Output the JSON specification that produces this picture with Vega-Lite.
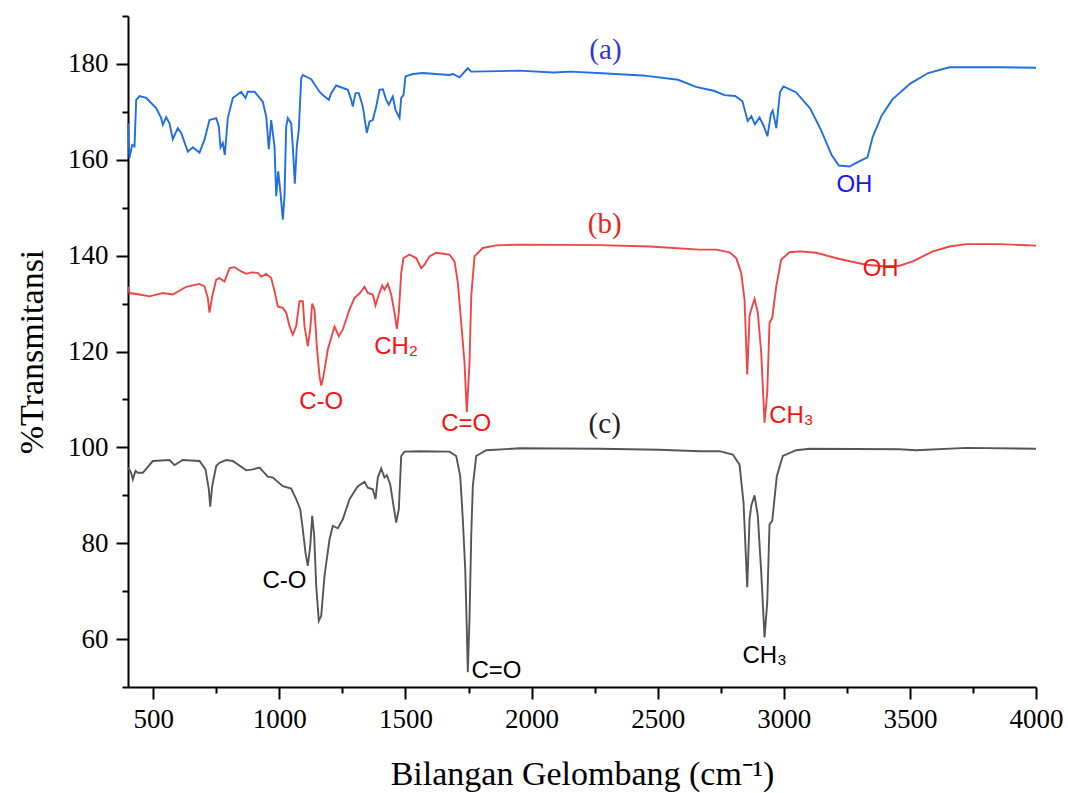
{
  "$schema": "https://vega.github.io/schema/vega-lite/v6.json",
  "width": 908,
  "height": 671,
  "autosize": {"type": "none"},
  "padding": {"left": 128, "top": 16, "right": 32, "bottom": 106},
  "background": "white",
  "config": {
    "view": {"stroke": null},
    "axis": {
      "grid": false,
      "domainColor": "#000000",
      "domainWidth": 2,
      "tickColor": "#000000",
      "tickWidth": 2,
      "labelFont": "Liberation Serif",
      "labelFontSize": 27,
      "labelColor": "#000000",
      "titleFont": "Liberation Serif",
      "titleFontSize": 34,
      "titleFontWeight": "normal",
      "titleColor": "#000000",
      "labelOverlap": false,
      "labelFlush": false
    }
  },
  "datasets": {
    "spec": [
      {"s":"a","wn":400,"t":167.6},{"s":"a","wn":406,"t":160.4},{"s":"a","wn":416.7,"t":163.1},{"s":"a","wn":425.8,"t":162.8},{"s":"a","wn":432.5,"t":172.5},{"s":"a","wn":445.6,"t":173.3},{"s":"a","wn":472.2,"t":172.9},{"s":"a","wn":511.8,"t":170.8},{"s":"a","wn":531.6,"t":168.7},{"s":"a","wn":538,"t":167.3},{"s":"a","wn":551.5,"t":168.9},{"s":"a","wn":564.5,"t":167.6},{"s":"a","wn":577.6,"t":164.3},{"s":"a","wn":597.5,"t":166.6},{"s":"a","wn":610.9,"t":165.6},{"s":"a","wn":637.1,"t":161.7},{"s":"a","wn":656.9,"t":162.6},{"s":"a","wn":683.5,"t":161.5},{"s":"a","wn":703.3,"t":164.2},{"s":"a","wn":723.1,"t":168.3},{"s":"a","wn":749.7,"t":168.7},{"s":"a","wn":760,"t":167},{"s":"a","wn":766.8,"t":162.6},{"s":"a","wn":775.9,"t":163.5},{"s":"a","wn":783.8,"t":161.0},{"s":"a","wn":795.7,"t":168.7},{"s":"a","wn":815.5,"t":172.9},{"s":"a","wn":848.8,"t":174.2},{"s":"a","wn":865.9,"t":172.9},{"s":"a","wn":875,"t":174.2},{"s":"a","wn":901.6,"t":174.2},{"s":"a","wn":934.5,"t":172.1},{"s":"a","wn":948,"t":169.0},{"s":"a","wn":958.3,"t":162.2},{"s":"a","wn":967.8,"t":168.3},{"s":"a","wn":974.1,"t":165.6},{"s":"a","wn":980.9,"t":162.8},{"s":"a","wn":987.6,"t":152.4},{"s":"a","wn":995.5,"t":157.6},{"s":"a","wn":1004.6,"t":153.1},{"s":"a","wn":1013.8,"t":147.5},{"s":"a","wn":1020.5,"t":152.4},{"s":"a","wn":1027.2,"t":166.9},{"s":"a","wn":1033.6,"t":168.7},{"s":"a","wn":1047.1,"t":167.6},{"s":"a","wn":1053.4,"t":162.8},{"s":"a","wn":1061.4,"t":155.0},{"s":"a","wn":1069.3,"t":162.8},{"s":"a","wn":1077.2,"t":166.3},{"s":"a","wn":1086.7,"t":177.0},{"s":"a","wn":1093.1,"t":177.7},{"s":"a","wn":1126.4,"t":176.8},{"s":"a","wn":1159.3,"t":174.2},{"s":"a","wn":1172.4,"t":173.5},{"s":"a","wn":1196.2,"t":172.5},{"s":"a","wn":1205.7,"t":173.9},{"s":"a","wn":1225.5,"t":175.5},{"s":"a","wn":1271.5,"t":174.6},{"s":"a","wn":1285,"t":172.5},{"s":"a","wn":1291.3,"t":171.1},{"s":"a","wn":1302,"t":173.9},{"s":"a","wn":1315.1,"t":173.9},{"s":"a","wn":1331,"t":171.1},{"s":"a","wn":1346.8,"t":165.6},{"s":"a","wn":1357.5,"t":168.0},{"s":"a","wn":1370.6,"t":168.3},{"s":"a","wn":1384.1,"t":171.1},{"s":"a","wn":1397.2,"t":174.6},{"s":"a","wn":1410.3,"t":174.7},{"s":"a","wn":1423.7,"t":172.5},{"s":"a","wn":1434.1,"t":171.5},{"s":"a","wn":1449.9,"t":173.2},{"s":"a","wn":1460.6,"t":170.4},{"s":"a","wn":1476.5,"t":168.7},{"s":"a","wn":1483.2,"t":172.9},{"s":"a","wn":1492.3,"t":173.5},{"s":"a","wn":1500.3,"t":177.4},{"s":"a","wn":1529.2,"t":177.9},{"s":"a","wn":1568.9,"t":178.1},{"s":"a","wn":1674.7,"t":177.7},{"s":"a","wn":1687.8,"t":177.9},{"s":"a","wn":1714.4,"t":177.2},{"s":"a","wn":1747.3,"t":179.1},{"s":"a","wn":1760.8,"t":178.4},{"s":"a","wn":1873,"t":178.5},{"s":"a","wn":1952,"t":178.6},{"s":"a","wn":2085.5,"t":178.2},{"s":"a","wn":2156,"t":178.4},{"s":"a","wn":2297.6,"t":178.0},{"s":"a","wn":2439.6,"t":177.6},{"s":"a","wn":2581,"t":176.7},{"s":"a","wn":2651.7,"t":175.2},{"s":"a","wn":2722.6,"t":174.4},{"s":"a","wn":2765,"t":173.5},{"s":"a","wn":2807.5,"t":173.3},{"s":"a","wn":2836,"t":172.2},{"s":"a","wn":2857,"t":168.1},{"s":"a","wn":2871.4,"t":169.1},{"s":"a","wn":2885.6,"t":167.4},{"s":"a","wn":2903.9,"t":168.85},{"s":"a","wn":2920.9,"t":167.0},{"s":"a","wn":2935.2,"t":164.9},{"s":"a","wn":2949.1,"t":169.6},{"s":"a","wn":2956.2,"t":170.3},{"s":"a","wn":2970.5,"t":166.6},{"s":"a","wn":2984.8,"t":174.1},{"s":"a","wn":2998.7,"t":175.3},{"s":"a","wn":3048.2,"t":174.1},{"s":"a","wn":3104.9,"t":170.7},{"s":"a","wn":3147.3,"t":166.25},{"s":"a","wn":3189.7,"t":161.0},{"s":"a","wn":3218.3,"t":158.8},{"s":"a","wn":3260.7,"t":158.6},{"s":"a","wn":3288.9,"t":159.4},{"s":"a","wn":3331.7,"t":160.5},{"s":"a","wn":3352.7,"t":164.8},{"s":"a","wn":3388,"t":169.2},{"s":"a","wn":3430.8,"t":172.6},{"s":"a","wn":3501.4,"t":175.9},{"s":"a","wn":3572.4,"t":178.1},{"s":"a","wn":3657.2,"t":179.3},{"s":"a","wn":3855.5,"t":179.3},{"s":"a","wn":4000,"t":179.2},

      {"s":"b","wn":400,"t":133.5},{"s":"b","wn":406,"t":132.2},{"s":"b","wn":445.6,"t":131.9},{"s":"b","wn":485.2,"t":131.5},{"s":"b","wn":538,"t":132.2},{"s":"b","wn":577.6,"t":131.9},{"s":"b","wn":630.8,"t":133.5},{"s":"b","wn":683.5,"t":134.1},{"s":"b","wn":703.3,"t":133.6},{"s":"b","wn":716.4,"t":131.2},{"s":"b","wn":723.1,"t":128.1},{"s":"b","wn":733.8,"t":131.5},{"s":"b","wn":749.7,"t":135.0},{"s":"b","wn":762.8,"t":135.3},{"s":"b","wn":782.6,"t":134.6},{"s":"b","wn":802.4,"t":137.4},{"s":"b","wn":822.3,"t":137.6},{"s":"b","wn":848.8,"t":136.7},{"s":"b","wn":868.7,"t":136.2},{"s":"b","wn":888.5,"t":136.5},{"s":"b","wn":914.6,"t":136.4},{"s":"b","wn":928.1,"t":135.6},{"s":"b","wn":947.9,"t":136.2},{"s":"b","wn":967.8,"t":135.35},{"s":"b","wn":980.9,"t":132.6},{"s":"b","wn":994,"t":129.4},{"s":"b","wn":1013.8,"t":129.1},{"s":"b","wn":1027.2,"t":128.1},{"s":"b","wn":1040.3,"t":125.3},{"s":"b","wn":1053.4,"t":123.5},{"s":"b","wn":1066.9,"t":125.3},{"s":"b","wn":1080,"t":130.5},{"s":"b","wn":1093.1,"t":130.5},{"s":"b","wn":1099.8,"t":125.3},{"s":"b","wn":1112.9,"t":121.1},{"s":"b","wn":1122.4,"t":124.6},{"s":"b","wn":1130.3,"t":130.0},{"s":"b","wn":1139.5,"t":128.75},{"s":"b","wn":1148.6,"t":121.1},{"s":"b","wn":1159.3,"t":114.85},{"s":"b","wn":1166,"t":112.9},{"s":"b","wn":1175.1,"t":114.85},{"s":"b","wn":1192.2,"t":120.4},{"s":"b","wn":1218.8,"t":125.2},{"s":"b","wn":1235.8,"t":123.2},{"s":"b","wn":1251.7,"t":124.6},{"s":"b","wn":1278.2,"t":128.75},{"s":"b","wn":1298,"t":131.2},{"s":"b","wn":1317.8,"t":132.1},{"s":"b","wn":1337.7,"t":133.5},{"s":"b","wn":1350.8,"t":132.2},{"s":"b","wn":1370.6,"t":131.9},{"s":"b","wn":1381.3,"t":129.6},{"s":"b","wn":1394.4,"t":131.9},{"s":"b","wn":1407.9,"t":133.75},{"s":"b","wn":1417,"t":132.9},{"s":"b","wn":1430.1,"t":134.1},{"s":"b","wn":1443.6,"t":131.9},{"s":"b","wn":1456.7,"t":128.1},{"s":"b","wn":1465.8,"t":124.7},{"s":"b","wn":1473.7,"t":128.1},{"s":"b","wn":1483.2,"t":136.4},{"s":"b","wn":1492.3,"t":139.5},{"s":"b","wn":1516.1,"t":140.2},{"s":"b","wn":1542.7,"t":139.5},{"s":"b","wn":1562.5,"t":137.4},{"s":"b","wn":1575.6,"t":138.1},{"s":"b","wn":1595.4,"t":139.85},{"s":"b","wn":1622,"t":140.6},{"s":"b","wn":1674.7,"t":140.2},{"s":"b","wn":1694.5,"t":138.8},{"s":"b","wn":1707.7,"t":134.3},{"s":"b","wn":1721.1,"t":126.0},{"s":"b","wn":1734.2,"t":117.65},{"s":"b","wn":1743.3,"t":107.35},{"s":"b","wn":1754,"t":117.65},{"s":"b","wn":1760.8,"t":131.5},{"s":"b","wn":1773.8,"t":139.85},{"s":"b","wn":1806.8,"t":141.6},{"s":"b","wn":1859.9,"t":142.15},{"s":"b","wn":1952.3,"t":142.3},{"s":"b","wn":2269.5,"t":142.2},{"s":"b","wn":2467.7,"t":141.9},{"s":"b","wn":2666,"t":141.25},{"s":"b","wn":2732.2,"t":141.25},{"s":"b","wn":2784.9,"t":140.7},{"s":"b","wn":2811.5,"t":139.5},{"s":"b","wn":2831.3,"t":136.4},{"s":"b","wn":2844.4,"t":130.8},{"s":"b","wn":2855.1,"t":115.2},{"s":"b","wn":2864.2,"t":127.4},{"s":"b","wn":2871,"t":128.75},{"s":"b","wn":2884.1,"t":131.0},{"s":"b","wn":2897.1,"t":128.1},{"s":"b","wn":2910.6,"t":119.7},{"s":"b","wn":2923.7,"t":105.15},{"s":"b","wn":2934.4,"t":111.4},{"s":"b","wn":2943.5,"t":126.0},{"s":"b","wn":2954.2,"t":127.0},{"s":"b","wn":2970.1,"t":133.6},{"s":"b","wn":2989.9,"t":139.2},{"s":"b","wn":3022.8,"t":140.7},{"s":"b","wn":3062.5,"t":140.9},{"s":"b","wn":3128.7,"t":140.6},{"s":"b","wn":3221.1,"t":139.3},{"s":"b","wn":3326.9,"t":138.1},{"s":"b","wn":3392.7,"t":137.8},{"s":"b","wn":3458.9,"t":137.9},{"s":"b","wn":3511.7,"t":138.8},{"s":"b","wn":3590.9,"t":140.9},{"s":"b","wn":3657.2,"t":141.9},{"s":"b","wn":3723.4,"t":142.4},{"s":"b","wn":3855.5,"t":142.4},{"s":"b","wn":4000,"t":142.1},

      {"s":"c","wn":400,"t":95.8},{"s":"c","wn":412.7,"t":94.7},{"s":"c","wn":419,"t":93.3},{"s":"c","wn":429.7,"t":95.1},{"s":"c","wn":438.9,"t":94.7},{"s":"c","wn":458.7,"t":94.7},{"s":"c","wn":498.3,"t":97.15},{"s":"c","wn":564.5,"t":97.35},{"s":"c","wn":584.4,"t":96.3},{"s":"c","wn":617.3,"t":97.35},{"s":"c","wn":683.5,"t":97.15},{"s":"c","wn":707.3,"t":95.4},{"s":"c","wn":720.4,"t":91.25},{"s":"c","wn":725.9,"t":87.65},{"s":"c","wn":733.8,"t":91.9},{"s":"c","wn":749.7,"t":96.1},{"s":"c","wn":762.8,"t":96.8},{"s":"c","wn":789.4,"t":97.35},{"s":"c","wn":815.5,"t":97.15},{"s":"c","wn":868.7,"t":95.2},{"s":"c","wn":894.8,"t":95.4},{"s":"c","wn":921.4,"t":95.8},{"s":"c","wn":954.3,"t":93.9},{"s":"c","wn":974.1,"t":93.7},{"s":"c","wn":1013.8,"t":91.9},{"s":"c","wn":1047.1,"t":91.4},{"s":"c","wn":1066.9,"t":89.2},{"s":"c","wn":1082.8,"t":87.1},{"s":"c","wn":1093.1,"t":82.9},{"s":"c","wn":1103.8,"t":78.0},{"s":"c","wn":1112.9,"t":75.3},{"s":"c","wn":1122.4,"t":79.4},{"s":"c","wn":1130.3,"t":85.7},{"s":"c","wn":1138.3,"t":81.5},{"s":"c","wn":1146.2,"t":71.1},{"s":"c","wn":1156.5,"t":63.8},{"s":"c","wn":1166,"t":64.85},{"s":"c","wn":1179.1,"t":73.2},{"s":"c","wn":1198.9,"t":80.8},{"s":"c","wn":1212,"t":83.6},{"s":"c","wn":1231.8,"t":83.1},{"s":"c","wn":1251.7,"t":85.0},{"s":"c","wn":1278.2,"t":89.2},{"s":"c","wn":1311.2,"t":91.9},{"s":"c","wn":1337.7,"t":92.8},{"s":"c","wn":1350.8,"t":91.6},{"s":"c","wn":1370.6,"t":91.25},{"s":"c","wn":1381.3,"t":89.2},{"s":"c","wn":1390.4,"t":93.7},{"s":"c","wn":1403.9,"t":95.6},{"s":"c","wn":1417,"t":93.7},{"s":"c","wn":1426.1,"t":94.2},{"s":"c","wn":1439.6,"t":92.3},{"s":"c","wn":1452.7,"t":87.8},{"s":"c","wn":1463.4,"t":84.3},{"s":"c","wn":1473.7,"t":87.1},{"s":"c","wn":1483.2,"t":98.2},{"s":"c","wn":1496.3,"t":99.1},{"s":"c","wn":1555.8,"t":99.2},{"s":"c","wn":1674.7,"t":99.1},{"s":"c","wn":1701.3,"t":98.2},{"s":"c","wn":1717.2,"t":94.0},{"s":"c","wn":1727.5,"t":85.0},{"s":"c","wn":1737,"t":74.6},{"s":"c","wn":1743.3,"t":62.1},{"s":"c","wn":1747.3,"t":53.1},{"s":"c","wn":1754,"t":64.2},{"s":"c","wn":1760.8,"t":81.5},{"s":"c","wn":1767.1,"t":91.9},{"s":"c","wn":1780.6,"t":98.2},{"s":"c","wn":1820.2,"t":99.4},{"s":"c","wn":1952.3,"t":99.8},{"s":"c","wn":2269.5,"t":99.7},{"s":"c","wn":2507.4,"t":99.5},{"s":"c","wn":2666,"t":99.2},{"s":"c","wn":2745.2,"t":99.2},{"s":"c","wn":2798,"t":98.5},{"s":"c","wn":2824.5,"t":96.4},{"s":"c","wn":2840.4,"t":88.5},{"s":"c","wn":2855.1,"t":70.8},{"s":"c","wn":2864.2,"t":85.0},{"s":"c","wn":2871,"t":87.8},{"s":"c","wn":2884.1,"t":90.0},{"s":"c","wn":2897.1,"t":85.7},{"s":"c","wn":2910.6,"t":73.9},{"s":"c","wn":2923.7,"t":60.35},{"s":"c","wn":2934.4,"t":67.65},{"s":"c","wn":2943.5,"t":83.95},{"s":"c","wn":2954.2,"t":84.65},{"s":"c","wn":2972.4,"t":94.0},{"s":"c","wn":2996.2,"t":98.2},{"s":"c","wn":3049.3,"t":99.4},{"s":"c","wn":3102.1,"t":99.7},{"s":"c","wn":3458.9,"t":99.6},{"s":"c","wn":3525.2,"t":99.4},{"s":"c","wn":3723.4,"t":99.9},{"s":"c","wn":4000,"t":99.7}
    ],
    "letters": [
      {"s":"a","label":"(a)","wn":2293,"t":182.9},
      {"s":"b","label":"(b)","wn":2290,"t":146.7},
      {"s":"c","label":"(c)","wn":2290,"t":104.8}
    ],
    "tags": [
      {"s":"a","label":"OH","wn":3280,"t":154.7},
      {"s":"b","label":"C-O","wn":1166,"t":109.4},
      {"s":"b","label":"CH₂","wn":1463,"t":121.0},
      {"s":"b","label":"C=O","wn":1741,"t":104.8},
      {"s":"b","label":"CH₃","wn":3030,"t":106.5},
      {"s":"b","label":"OH","wn":3384,"t":137.3},
      {"s":"c","label":"C-O","wn":1020,"t":72.2},
      {"s":"c","label":"C=O","wn":1861,"t":53.3},
      {"s":"c","label":"CH₃","wn":2924,"t":56.5}
    ]
  },
  "layer": [
    {
      "data": {"name": "spec"},
      "mark": {"type": "line", "strokeWidth": 1.9},
      "encoding": {
        "x": {
          "field": "wn", "type": "quantitative",
          "scale": {"domain": [400, 4000], "nice": false, "zero": false},
          "axis": {
            "title": "Bilangan Gelombang (cm⁻¹)",
            "values": [500,750,1000,1250,1500,1750,2000,2250,2500,2750,3000,3250,3500,3750,4000],
            "format": "d",
            "labelExpr": "datum.value % 500 === 0 ? datum.label : ''",
            "tickSize": {"condition": {"test": "datum.value % 500 !== 0", "value": 6}, "value": 12},
            "labelPadding": 7,
            "titlePadding": 25
          }
        },
        "y": {
          "field": "t", "type": "quantitative",
          "scale": {"domain": [50, 190], "nice": false, "zero": false},
          "axis": {
            "title": "%Transmitansi",
            "values": [50,60,70,80,90,100,110,120,130,140,150,160,170,180,190],
            "format": "d",
            "labelExpr": "datum.value % 20 === 0 ? datum.label : ''",
            "tickSize": {"condition": {"test": "datum.value % 20 !== 0", "value": 6}, "value": 12},
            "labelPadding": 8,
            "titlePadding": 18
          }
        },
        "color": {
          "field": "s", "type": "nominal",
          "scale": {"domain": ["a","b","c"], "range": ["#1f6fe0","#f04545","#555555"]},
          "legend": null
        }
      }
    },
    {
      "data": {"name": "letters"},
      "mark": {"type": "text", "font": "Liberation Serif", "fontSize": 29, "align": "center", "baseline": "middle"},
      "encoding": {
        "x": {"field": "wn", "type": "quantitative"},
        "y": {"field": "t", "type": "quantitative"},
        "text": {"field": "label"},
        "color": {
          "field": "s", "type": "nominal",
          "scale": {"domain": ["a","b","c"], "range": ["#3434d4","#ee2020","#222222"]},
          "legend": null
        }
      }
    },
    {
      "data": {"name": "tags"},
      "mark": {"type": "text", "font": "Liberation Sans", "fontSize": 24, "align": "center", "baseline": "middle"},
      "encoding": {
        "x": {"field": "wn", "type": "quantitative"},
        "y": {"field": "t", "type": "quantitative"},
        "text": {"field": "label"},
        "color": {
          "field": "s", "type": "nominal",
          "scale": {"domain": ["a","b","c"], "range": ["#1515f5","#ff1010","#000000"]},
          "legend": null
        }
      }
    }
  ],
  "resolve": {"scale": {"color": "independent"}}
}
